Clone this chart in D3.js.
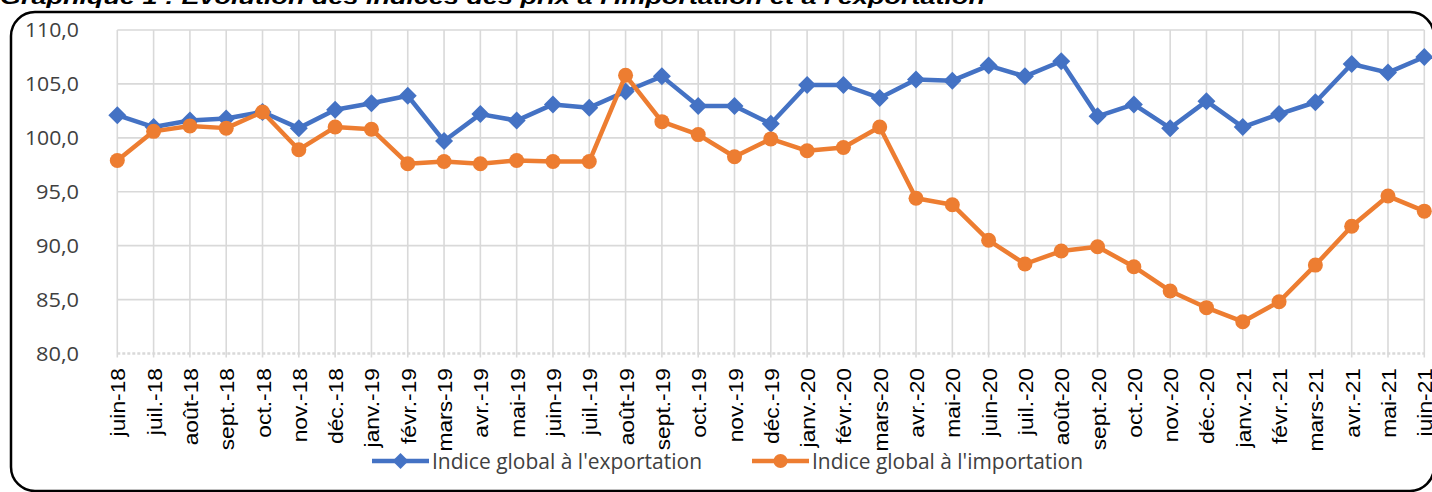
<!DOCTYPE html>
<html><head><meta charset="utf-8">
<script src="https://cdn.jsdelivr.net/npm/d3@7"></script>
<style>html,body{margin:0;padding:0;background:#fff;overflow:hidden}</style>
</head><body>
<svg id="c" width="1432" height="492"></svg>
<script>
const months = ["juin-18","juil.-18","août-18","sept.-18","oct.-18","nov.-18","déc.-18","janv.-19","févr.-19","mars-19","avr.-19","mai-19","juin-19","juil.-19","août-19","sept.-19","oct.-19","nov.-19","déc.-19","janv.-20","févr.-20","mars-20","avr.-20","mai-20","juin-20","juil.-20","août-20","sept.-20","oct.-20","nov.-20","déc.-20","janv.-21","févr.-21","mars-21","avr.-21","mai-21","juin-21"];
const exportIdx = [102.1,101.0,101.6,101.8,102.4,100.9,102.6,103.2,103.9,99.7,102.2,101.6,103.1,102.8,104.3,105.7,102.95,102.95,101.3,104.9,104.9,103.7,105.4,105.3,106.7,105.7,107.1,102.0,103.1,100.9,103.4,101.0,102.2,103.3,106.85,106.05,107.5];
const importIdx = [97.9,100.6,101.1,100.9,102.4,98.9,101.0,100.8,97.6,97.8,97.6,97.9,97.8,97.8,105.8,101.5,100.3,98.25,99.9,98.8,99.1,101.0,94.4,93.8,90.5,88.3,89.5,89.9,88.05,85.8,84.25,82.95,84.8,88.2,91.8,94.6,93.2];
const yTicks = [80,85,90,95,100,105,110];
const seriesNames = ["Indice global à l'exportation","Indice global à l'importation"];
const titleText = "Graphique 1 : Évolution des indices des prix à l'importation et à l'exportation";

const blue = "#4472C4", orange = "#ED7D31", grid = "#d9d9d9";
const svg = d3.select("#c");
const x = d3.scalePoint().domain(months).range([117.3, 1424.3]);
const y = d3.scaleLinear().domain([80,110]).range([353.5, 30]);
const fmt = v => d3.format(".1f")(v).replace(".", ",");

// title (cut at top)
svg.append("text").attr("x", 0).attr("y", 4)
  .attr("font-family","Liberation Sans, Arial, sans-serif").attr("font-weight","bold").attr("font-style","italic")
  .attr("font-size", 21).attr("textLength", 985).attr("lengthAdjust","spacingAndGlyphs")
  .attr("fill","#000").text(titleText);

// border
svg.append("rect").attr("x", 11).attr("y", 12).attr("width", 1423).attr("height", 479)
  .attr("rx", 24).attr("ry", 24).attr("fill","none").attr("stroke","#000").attr("stroke-width", 2.5);

// horizontal grid
svg.append("g").selectAll("line").data(yTicks.filter(t => t > 80)).join("line")
  .attr("x1", x.range()[0]).attr("x2", x.range()[1])
  .attr("y1", d => y(d)).attr("y2", d => y(d))
  .attr("stroke", grid).attr("stroke-width", 1.6);
// vertical grid
svg.append("g").selectAll("line").data(months).join("line")
  .attr("x1", d => x(d)).attr("x2", d => x(d))
  .attr("y1", y(110)).attr("y2", y(80) + 4)
  .attr("stroke", grid).attr("stroke-width", 1.6);
// bottom dotted axis
svg.append("line").attr("x1", x.range()[0]).attr("x2", x.range()[1])
  .attr("y1", y(80)).attr("y2", y(80))
  .attr("stroke", grid).attr("stroke-width", 2.5).attr("stroke-dasharray","3,2");

// y labels
svg.append("g").selectAll("text").data(yTicks).join("text")
  .attr("x", 79).attr("y", d => y(d)).attr("text-anchor","end").attr("dy","0.36em")
  .attr("font-family","Open Sans, sans-serif").attr("font-size", 20.5)
  .attr("textLength", d => d >= 100 ? 54 : 43).attr("lengthAdjust","spacingAndGlyphs")
  .attr("fill","#404040").text(fmt);

// x labels
svg.append("g").selectAll("text").data(months).join("text")
  .attr("transform", d => `translate(${x(d)+1},368) rotate(-90) scale(1.14,1)`)
  .attr("text-anchor","end").attr("dy","0.35em")
  .attr("font-family","Liberation Sans, Arial, sans-serif").attr("font-size", 20)
  .attr("fill","#000").text(d => d);

// lines
const line = d3.line().x((d,i) => x(months[i])).y(d => y(d));
svg.append("path").datum(exportIdx).attr("d", line).attr("fill","none")
  .attr("stroke", blue).attr("stroke-width", 4.5).attr("stroke-linejoin","round");
const diamond = s => `M0,${-s}L${s},0L0,${s}L${-s},0Z`;
svg.append("g").selectAll("path").data(exportIdx).join("path")
  .attr("transform",(d,i) => `translate(${x(months[i])},${y(d)})`)
  .attr("d", diamond(9)).attr("fill", blue);

svg.append("path").datum(importIdx).attr("d", line).attr("fill","none")
  .attr("stroke", orange).attr("stroke-width", 4.5).attr("stroke-linejoin","round");
svg.append("g").selectAll("circle").data(importIdx).join("circle")
  .attr("cx",(d,i) => x(months[i])).attr("cy", d => y(d)).attr("r", 7.5).attr("fill", orange);

// legend
const leg = [{x0:372, x1:429, tx:432, w:270, c:blue, m:"d"},{x0:752, x1:809, tx:812, w:271, c:orange, m:"c"}];
const ly = 461;
leg.forEach((L, i) => {
  svg.append("line").attr("x1", L.x0).attr("x2", L.x1).attr("y1", ly).attr("y2", ly)
    .attr("stroke", L.c).attr("stroke-width", 4.5);
  if (L.m === "d") svg.append("path").attr("transform",`translate(${(L.x0+L.x1)/2},${ly})`).attr("d", diamond(8)).attr("fill", L.c);
  else svg.append("circle").attr("cx",(L.x0+L.x1)/2).attr("cy", ly).attr("r", 7).attr("fill", L.c);
  svg.append("text").attr("x", L.tx).attr("y", ly).attr("dy","0.36em")
    .attr("font-family","Open Sans, sans-serif").attr("font-size", 21)
    .attr("textLength", L.w).attr("lengthAdjust","spacingAndGlyphs")
    .attr("fill","#404040").text(seriesNames[i]);
});
</script>
</body></html>
